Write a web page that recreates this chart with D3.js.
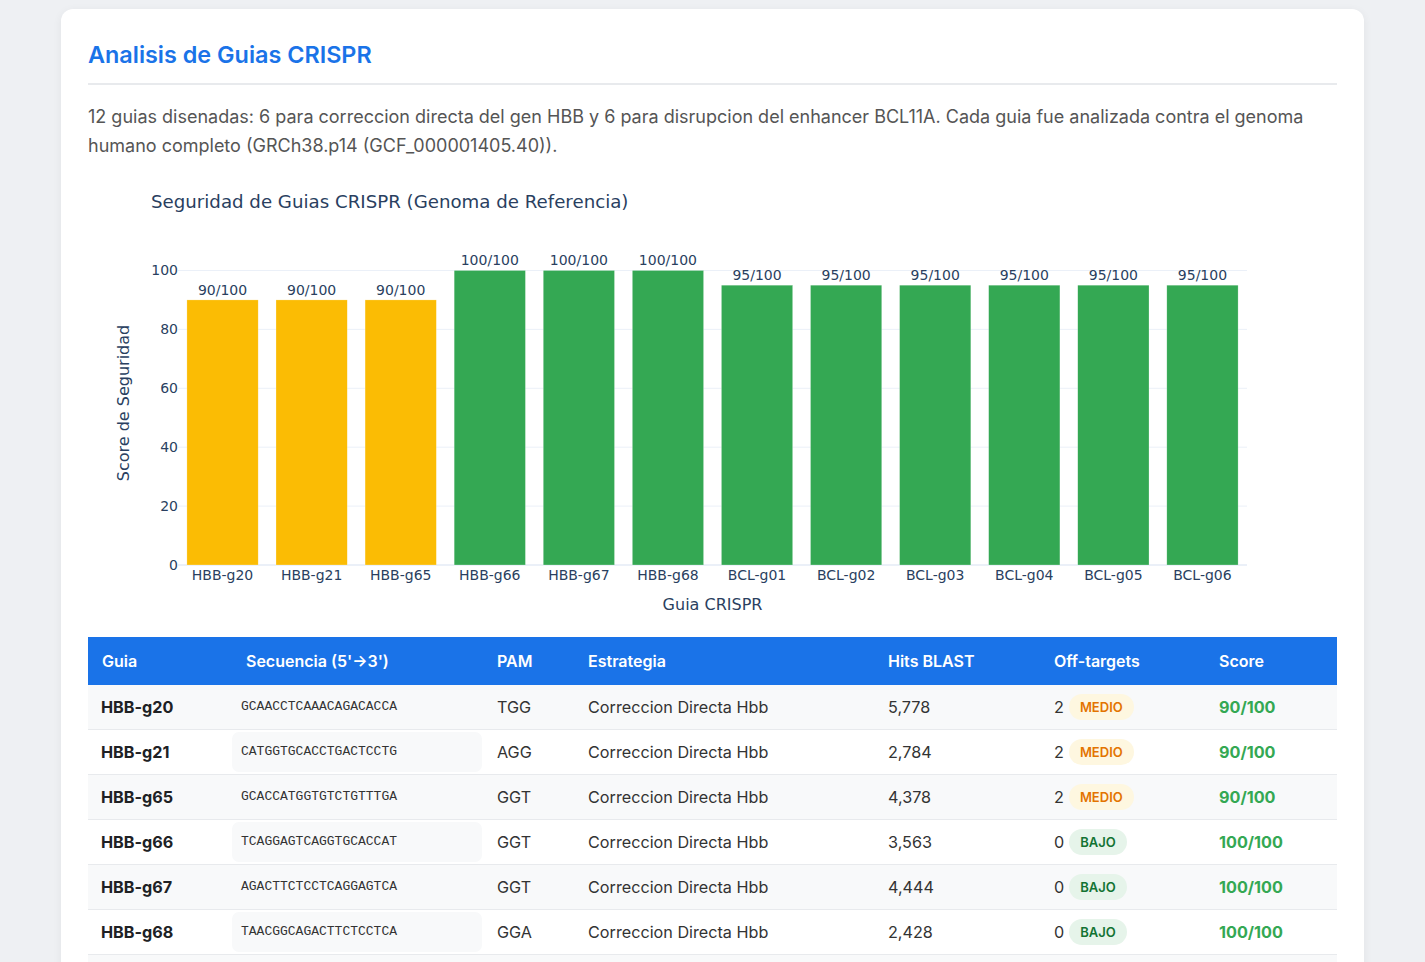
<!DOCTYPE html>
<html>
<head>
<meta charset="utf-8">
<script src="https://cdn.jsdelivr.net/npm/d3@7"></script>
<style>
  html, body { margin: 0; padding: 0; }
  body { background: #eef0f3; width: 1425px; height: 962px; overflow: hidden; font-family: Inter, "Noto Sans", sans-serif; position: relative; }
  .card { position: absolute; left: 61px; top: 9px; width: 1303px; height: 1100px; background: #fff; border-radius: 12px; box-shadow: 0 2px 10px rgba(0,0,0,0.06); }
  .card h2 { position: absolute; left: 27px; top: 31px; margin: 0; font-size: 23.4px; line-height: 30px; font-weight: 600; color: #1a73e8; }
  .card .rule { position: absolute; left: 27px; top: 74px; width: 1249px; height: 2px; background: #e8eaed; }
  .card p { position: absolute; left: 27px; top: 93px; width: 1249px; margin: 0; font-size: 18px; line-height: 29px; color: #555; }
  #chart { position: absolute; left: 27px; top: 166px; }
  table { position: absolute; left: 27px; top: 628px; width: 1249px; border-collapse: collapse; table-layout: fixed; }
  th { background: #1a73e8; color: #fff; font-weight: 600; font-size: 16px; text-align: left; height: 48px; padding: 0 14px; }
  td { font-size: 16.2px; color: #333; height: 44px; padding: 0 14px; border-bottom: 1px solid #e8eaed; white-space: nowrap; }
  tr.odd td { background: #f8f9fa; }
  td.guia { font-weight: 700; color: #202124; padding-left: 13px; }
  td.seq { padding: 2px 1px 2px 0; height: 40px; }
  td.seq div { height: 40px; line-height: 40px; background: #f8f9fa; border-radius: 7px; padding-left: 9px; font-family: "Liberation Mono", "Courier New", monospace; font-size: 13px; color: #333; }
  td.ot span { vertical-align: middle; }
  .badge { display: inline-block; margin-left: 5px; padding: 0 11px; height: 26px; line-height: 26px; border-radius: 13px; font-size: 13px; font-weight: 600; }
  .badge.MEDIO { background: #fef7e0; color: #e37400; }
  .badge.BAJO { background: #e6f4ea; color: #137333; }
  td.score { font-weight: 700; color: #34a853; }
</style>
</head>
<body>
<div class="card">
  <h2>Analisis de Guias CRISPR</h2>
  <div class="rule"></div>
  <p>12 guias disenadas: 6 para correccion directa del gen HBB y 6 para disrupcion del enhancer BCL11A. Cada guia fue analizada contra el genoma humano completo (GRCh38.p14 (GCF_000001405.40)).</p>
  <div id="chart"></div>
  <table id="tbl"></table>
</div>
<script>
// chart data
var guias = ["HBB-g20","HBB-g21","HBB-g65","HBB-g66","HBB-g67","HBB-g68","BCL-g01","BCL-g02","BCL-g03","BCL-g04","BCL-g05","BCL-g06"];
var scores = [90, 90, 90, 100, 100, 100, 95, 95, 95, 95, 95, 95];
var yTicks = [0, 20, 40, 60, 80, 100];

// table data (visible rows)
var tblGuias = ["HBB-g20","HBB-g21","HBB-g65","HBB-g66","HBB-g67","HBB-g68"];
var secuencias = ["GCAACCTCAAACAGACACCA","CATGGTGCACCTGACTCCTG","GCACCATGGTGTCTGTTTGA","TCAGGAGTCAGGTGCACCAT","AGACTTCTCCTCAGGAGTCA","TAACGGCAGACTTCTCCTCA"];
var pams = ["TGG","AGG","GGT","GGT","GGT","GGA"];
var estrategias = ["Correccion Directa Hbb","Correccion Directa Hbb","Correccion Directa Hbb","Correccion Directa Hbb","Correccion Directa Hbb","Correccion Directa Hbb"];
var hitsBlast = [5778, 2784, 4378, 3563, 4444, 2428];
var offTargets = [2, 2, 2, 0, 0, 0];
var riesgo = ["MEDIO","MEDIO","MEDIO","BAJO","BAJO","BAJO"];
var tblScores = [90, 90, 90, 100, 100, 100];
var columnas = ["Guia","Secuencia (5'\u21923')","PAM","Estrategia","Hits BLAST","Off-targets","Score"];
var colWidths = [144, 251, 91, 300, 166, 165, 132];

var width = 1249, height = 450,
    marginLeft = 90, marginRight = 90, marginTop = 66, marginBottom = 60,
    chartWidth = width - marginLeft - marginRight,
    chartHeight = height - marginTop - marginBottom;

var font = '"DejaVu Sans", Verdana, sans-serif',
    textColor = "#2a3f5f",
    gridColor = "#ebf0f8";

var svg = d3.select("#chart").append("svg")
    .attr("width", width)
    .attr("height", height);

svg.append("text")
    .attr("x", 63).attr("y", 33)
    .style("font-family", font).style("font-size", "18.2px").style("fill", textColor)
    .text("Seguridad de Guias CRISPR (Genoma de Referencia)");

var chartArea = svg.append("g")
    .attr("transform", "translate(" + marginLeft + "," + marginTop + ")");

var xScale = d3.scaleBand().domain(guias).range([0, chartWidth]).paddingInner(0.2).paddingOuter(0.1);
var yScale = d3.scaleLinear().domain([0, 110]).range([chartHeight, 0]);

// grid
chartArea.append("g").selectAll("line").data(yTicks).enter()
    .append("line")
    .attr("x1", 0).attr("x2", chartWidth)
    .attr("y1", function(d){ return yScale(d); })
    .attr("y2", function(d){ return yScale(d); })
    .style("stroke", gridColor)
    .style("stroke-width", function(d){ return d === 0 ? 2 : 1; });

// y tick labels
chartArea.append("g").selectAll("text").data(yTicks).enter()
    .append("text")
    .attr("x", 0)
    .attr("y", function(d){ return yScale(d) + 5; })
    .style("font-family", font).style("font-size", "14px").style("fill", textColor)
    .style("text-anchor", "end")
    .text(function(d){ return d; });

// bars
chartArea.append("g").selectAll("rect").data(scores).enter()
    .append("rect")
    .attr("x", function(d, i){ return xScale(guias[i]); })
    .attr("y", function(d){ return yScale(d); })
    .attr("width", xScale.bandwidth())
    .attr("height", function(d){ return yScale(0) - yScale(d); })
    .style("fill", function(d){ return d < 95 ? "#fbbc04" : "#34a853"; })
    .style("stroke", "rgba(255,255,255,0.5)")
    .style("stroke-width", 0.5);

// bar value labels
chartArea.append("g").selectAll("text").data(scores).enter()
    .append("text")
    .attr("x", function(d, i){ return xScale(guias[i]) + xScale.bandwidth() / 2; })
    .attr("y", function(d){ return yScale(d) - 5; })
    .style("font-family", font).style("font-size", "14px").style("fill", textColor)
    .style("text-anchor", "middle")
    .text(function(d){ return d + "/100"; });

// x tick labels
chartArea.append("g").selectAll("text").data(guias).enter()
    .append("text")
    .attr("x", function(d){ return xScale(d) + xScale.bandwidth() / 2; })
    .attr("y", chartHeight + 15)
    .style("font-family", font).style("font-size", "14px").style("fill", textColor)
    .style("text-anchor", "middle")
    .text(function(d){ return d; });

// axis titles
chartArea.append("text")
    .attr("x", chartWidth / 2).attr("y", chartHeight + 45)
    .style("font-family", font).style("font-size", "16px").style("fill", textColor)
    .style("text-anchor", "middle")
    .text("Guia CRISPR");

chartArea.append("text")
    .attr("transform", "translate(-49," + (chartHeight / 2) + ") rotate(-90)")
    .style("font-family", font).style("font-size", "16px").style("fill", textColor)
    .style("text-anchor", "middle")
    .text("Score de Seguridad");

// table
var tbl = d3.select("#tbl");
tbl.append("colgroup").selectAll("col").data(colWidths).enter()
    .append("col").style("width", function(d){ return d + "px"; });
tbl.append("thead").append("tr").selectAll("th").data(columnas).enter()
    .append("th").text(function(d){ return d; });

var rows = tbl.append("tbody").selectAll("tr").data(tblGuias).enter()
    .append("tr")
    .attr("class", function(d, i){ return i % 2 === 0 ? "odd" : "even"; });

rows.append("td").attr("class", "guia").text(function(d){ return d; });
rows.append("td").attr("class", "seq").append("div").text(function(d, i){ return secuencias[i]; });
rows.append("td").text(function(d, i){ return pams[i]; });
rows.append("td").text(function(d, i){ return estrategias[i]; });
rows.append("td").text(function(d, i){ return d3.format(",")(hitsBlast[i]); });
var ot = rows.append("td").attr("class", "ot");
ot.append("span").text(function(d, i){ return offTargets[i]; });
ot.append("span").attr("class", function(d, i){ return "badge " + riesgo[i]; }).text(function(d, i){ return riesgo[i]; });
rows.append("td").attr("class", "score").text(function(d, i){ return tblScores[i] + "/100"; });

// next row (cut off by the window)
tbl.select("tbody").append("tr").attr("class", "odd")
    .selectAll("td").data(columnas).enter().append("td").html("&nbsp;");
</script>
</body>
</html>
